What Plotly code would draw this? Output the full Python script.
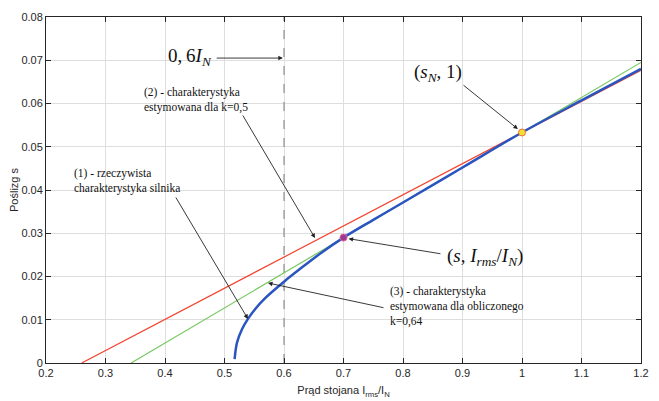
import plotly.graph_objects as go

# ---- data ----
red_x = [0.26, 1.2]
red_y = [0.0, 0.0677]
green_x = [0.343, 1.2]
green_y = [0.0, 0.0695]
blue_x = [0.517, 0.521, 0.5294, 0.5394, 0.5517, 0.5683, 0.600, 0.6294, 0.6628, 0.700, 0.750, 0.800, 0.900, 1.000, 1.100, 1.200]
blue_y = [0.0009, 0.0047, 0.0078, 0.0102, 0.0125, 0.0150, 0.0188, 0.0220, 0.0255, 0.0290, 0.0331, 0.0371, 0.0452, 0.0533, 0.0607, 0.0680]
pt_nom = (1.0, 0.0533)
pt_op = (0.7, 0.029)
x_dash = 0.6
x_ticks = [0.2, 0.3, 0.4, 0.5, 0.6, 0.7, 0.8, 0.9, 1.0, 1.1, 1.2]
x_tick_labels = ["0.2", "0.3", "0.4", "0.5", "0.6", "0.7", "0.8", "0.9", "1", "1.1", "1.2"]
y_ticks = [0, 0.01, 0.02, 0.03, 0.04, 0.05, 0.06, 0.07, 0.08]
y_tick_labels = ["0", "0.01", "0.02", "0.03", "0.04", "0.05", "0.06", "0.07", "0.08"]

fig = go.Figure()
fig.add_trace(go.Scatter(x=[x_dash, x_dash], y=[0, 0.08], mode="lines",
                         line=dict(color="#7a7a7a", width=1, dash="dash"), showlegend=False))
fig.add_trace(go.Scatter(x=red_x, y=red_y, mode="lines",
                         line=dict(color="#f4432f", width=1.2), showlegend=False))
fig.add_trace(go.Scatter(x=green_x, y=green_y, mode="lines",
                         line=dict(color="#78c860", width=1.2), showlegend=False))
fig.add_trace(go.Scatter(x=blue_x, y=blue_y, mode="lines",
                         line=dict(color="#2a55c0", width=2.5, shape="spline", smoothing=1.0),
                         showlegend=False))
fig.add_trace(go.Scatter(x=[pt_nom[0]], y=[pt_nom[1]], mode="markers",
                         marker=dict(color="#f2e030", size=7, line=dict(color="#f07040", width=1)),
                         showlegend=False))
fig.add_trace(go.Scatter(x=[pt_op[0]], y=[pt_op[1]], mode="markers",
                         marker=dict(color="#9a3a90", size=7, line=dict(color="#e0609a", width=1)),
                         showlegend=False))

serif = "Liberation Serif"
small = dict(family=serif, size=11.5, color="#111111")
math = dict(family=serif, size=19, color="#111111")

def arrow(tip, tail):
    fig.add_annotation(x=tip[0], y=tip[1], ax=tail[0], ay=tail[1], axref="x", ayref="y",
                       xref="x", yref="y", text="", showarrow=True, arrowhead=2,
                       arrowsize=1, arrowwidth=0.9, arrowcolor="#222222", standoff=0)

def label(x, y, text, font, xanchor="left"):
    fig.add_annotation(x=x, y=y, xref="x", yref="y", text=text, showarrow=False,
                       font=font, xanchor=xanchor, yanchor="middle", align="left")

# 0,6 I_N
label(0.483, 0.07075, "0,&#8201;6<i>I</i><sub><i>N</i></sub>", math, xanchor="right")
arrow((0.598, 0.0705), (0.4844, 0.0705))
# (2)
label(0.3613, 0.0608, "(2) - charakterystyka<br>estymowana dla k=0,5", small)
arrow((0.6521, 0.0289), (0.5294, 0.05757))
# (1)
label(0.2437, 0.04208, "(1) - rzeczywista<br>charakterystyka silnika", small)
arrow((0.5394, 0.0102), (0.4168, 0.03861))
# (s_N, 1)
label(0.858, 0.0670, "(<i>s</i><sub><i>N</i></sub>, 1)", math, xanchor="center")
arrow((0.993, 0.0541), (0.8992, 0.0645))
# (s, I_rms/I_N)
label(0.8706, 0.0245, "(<i>s</i>, <i>I</i><sub><i>rms</i></sub>/<i>I</i><sub><i>N</i></sub>)", math)
arrow((0.7085, 0.02875), (0.8655, 0.0252))
# (3)
label(0.7748, 0.01295, "(3) - charakterystyka<br>estymowana dla obliczonego<br>k=0,64", small)
arrow((0.5731, 0.0185), (0.7697, 0.01272))

axis_common = dict(showline=True, linecolor="#262626", linewidth=1, mirror="ticks",
                   ticks="inside", ticklen=5, tickcolor="#262626", automargin=False,
                   showgrid=True, gridcolor="#dedede", gridwidth=1, zeroline=False,
                   tickfont=dict(family="Liberation Sans", size=11, color="#262626"))

fig.update_xaxes(range=[0.2, 1.2], tickvals=x_ticks, ticktext=x_tick_labels,
                 title=dict(text="Prąd stojana I<sub>rms</sub>/I<sub>N</sub>",
                            font=dict(family="Liberation Sans", size=11, color="#262626"),
                            standoff=8),
                 **axis_common)
fig.update_yaxes(range=[0, 0.08], tickvals=y_ticks, ticktext=y_tick_labels,
                 title=dict(text="Poślizg s",
                            font=dict(family="Liberation Sans", size=11, color="#262626"),
                            standoff=0),
                 **axis_common)

fig.update_layout(width=659, height=401, margin=dict(l=46, r=18, t=17, b=38),
                  plot_bgcolor="white", paper_bgcolor="white", showlegend=False)

fig.write_html("out.html", config={"displayModeBar": False},
               post_script="document.body.style.margin='0';document.body.style.padding='0';document.body.style.overflow='hidden';")
